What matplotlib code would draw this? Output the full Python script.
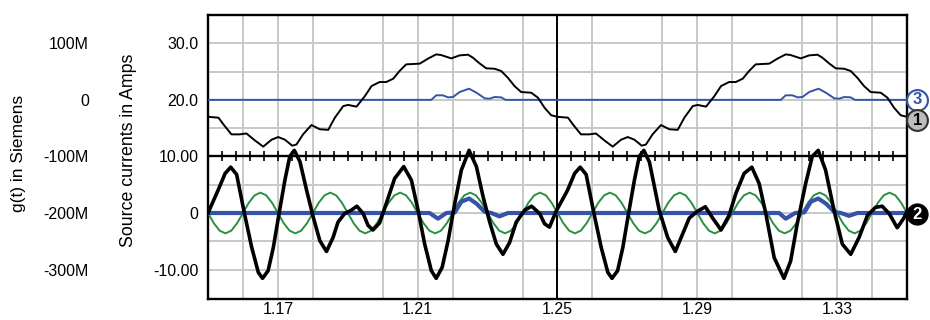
import numpy as np
import matplotlib
matplotlib.use("Agg")
import matplotlib.pyplot as plt
from matplotlib.ticker import FixedLocator, MultipleLocator

plt.rcParams['font.family'] = ['Liberation Sans', 'DejaVu Sans']
plt.rcParams['font.size'] = 11.5

# --- data ---

# trace 1: source current (upper panel), Amps
t_src1 = [1.1500, 1.1530, 1.1544, 1.1567, 1.1591, 1.1610, 1.1634, 1.1658, 1.1682, 1.1701,
          1.1720, 1.1741, 1.1753, 1.1772, 1.1796, 1.1820, 1.1844, 1.1863, 1.1887, 1.1901,
          1.1925, 1.1949, 1.1968, 1.1991, 1.2010, 1.2030, 1.2048, 1.2067, 1.2106, 1.2129,
          1.2153, 1.2167, 1.2196, 1.2220, 1.2244, 1.2258, 1.2277, 1.2296, 1.2320, 1.2339,
          1.2358, 1.2377, 1.2396, 1.2425, 1.2444, 1.2463, 1.2482,
          1.2500, 1.2530, 1.2544, 1.2567, 1.2591, 1.2610, 1.2634, 1.2658, 1.2682, 1.2701,
          1.2720, 1.2741, 1.2753, 1.2772, 1.2796, 1.2820, 1.2844, 1.2863, 1.2887, 1.2901,
          1.2925, 1.2949, 1.2968, 1.2991, 1.3010, 1.3030, 1.3048, 1.3067, 1.3106, 1.3129,
          1.3153, 1.3167, 1.3196, 1.3220, 1.3244, 1.3258, 1.3277, 1.3296, 1.3320, 1.3339,
          1.3358, 1.3377, 1.3396, 1.3425, 1.3444, 1.3463, 1.3482, 1.3500]
i_src1 = [17.0, 16.85, 15.67, 13.9, 13.9, 14.06, 12.84, 11.73, 12.96, 13.43,
          12.96, 11.9, 12.1, 13.9, 15.55, 14.8, 14.7, 16.85, 18.9, 19.1,
          18.8, 20.67, 22.44, 23.15, 23.15, 23.74, 25.09, 26.27, 26.4, 27.27,
          28.04, 27.92, 27.33, 27.86, 27.98, 27.45, 26.45, 25.57, 25.5, 25.1,
          23.9, 22.44, 21.38, 21.26, 20.38, 18.6, 17.27,
          17.0, 16.85, 15.67, 13.9, 13.9, 14.06, 12.84, 11.73, 12.96, 13.43,
          12.96, 11.9, 12.1, 13.9, 15.55, 14.8, 14.7, 16.85, 18.9, 19.1,
          18.8, 20.67, 22.44, 23.15, 23.15, 23.74, 25.09, 26.27, 26.4, 27.27,
          28.04, 27.92, 27.33, 27.86, 27.98, 27.45, 26.45, 25.57, 25.5, 25.1,
          23.9, 22.44, 21.38, 21.26, 20.38, 18.6, 17.27, 17.0]

# trace 3: g(t), in MSiemens
t_g = [1.1500, 1.2139, 1.2153, 1.2172, 1.2187, 1.2201, 1.2220, 1.2247, 1.2268, 1.2292,
       1.2306, 1.2320, 1.2339, 1.2351,
       1.3139, 1.3153, 1.3172, 1.3187, 1.3201, 1.3220, 1.3247, 1.3268, 1.3292,
       1.3306, 1.3320, 1.3339, 1.3351, 1.3500]
g_meg = [0, 0, 8, 8, 4.4, 5, 13.8, 19.7, 12.6, 2.6,
         2, 5, 4.4, 0,
         0, 8, 8, 4.4, 5, 13.8, 19.7, 12.6, 2.6,
         2, 5, 4.4, 0, 0]

# trace 2: source current (lower panel), Amps
t_src2 = [1.1500, 1.1529, 1.1549, 1.1565, 1.1582, 1.1604, 1.1625, 1.1644, 1.1656, 1.1672,
          1.1687, 1.1703, 1.1720, 1.1734, 1.1747, 1.1763, 1.1782, 1.1801, 1.1820, 1.1839,
          1.1858, 1.1872, 1.1891, 1.1910, 1.1926, 1.1944, 1.1958, 1.1972, 1.1991, 1.2010,
          1.2034, 1.2060, 1.2082, 1.2101, 1.2120, 1.2139, 1.2153, 1.2170, 1.2187, 1.2206,
          1.2225, 1.2247, 1.2268, 1.2287, 1.2306, 1.2325, 1.2344, 1.2363, 1.2382, 1.2406,
          1.2426, 1.2449, 1.2463, 1.2477, 1.2496,
          1.2529, 1.2549, 1.2565, 1.2582, 1.2604, 1.2625, 1.2644, 1.2656, 1.2672, 1.2687,
          1.2703, 1.2720, 1.2734, 1.2747, 1.2763, 1.2791, 1.2815, 1.2837, 1.2858, 1.2877,
          1.2900, 1.2923, 1.2944, 1.2968, 1.2991, 1.3010, 1.3034, 1.3056, 1.3077, 1.3096,
          1.3120, 1.3148, 1.3167, 1.3186, 1.3210, 1.3229, 1.3246, 1.3267, 1.3291, 1.3315,
          1.3339, 1.3363, 1.3387, 1.3410, 1.3429, 1.3449, 1.3472, 1.3491, 1.3500]
i_src2 = [0.0, 4.05, 7.0, 8.1, 6.8, 0.0, -6.07, -10.5, -11.55, -10.2,
          -6.07, -0.2, 5.8, 10.0, 11.07, 9.1, 4.05, -0.7, -4.9, -6.8,
          -4.3, -1.6, -0.1, 0.5, 1.2, -0.1, -2.2, -3.0, -1.75, 1.67,
          6.1, 8.2, 5.8, 0.5, -5.5, -10.2, -11.55, -9.6, -4.9, 1.67,
          7.6, 11.07, 8.2, 2.9, -1.6, -5.5, -7.3, -5.2, -1.6, 0.5,
          1.2, -0.1, -1.9, -2.5, 0.3,
          4.05, 7.0, 8.1, 6.8, 0.0, -6.07, -10.5, -11.55, -10.2, -6.07,
          -0.2, 5.8, 10.0, 11.07, 9.0, 0.5, -4.3, -6.8, -3.7, -0.9,
          0.3, 1.1, -0.9, -3.0, -0.4, 3.4, 7.0, 8.1, 5.2, -0.1,
          -7.9, -11.55, -8.5, -1.9, 5.2, 10.0, 11.07, 7.6, 0.5, -5.5,
          -7.3, -4.3, -0.4, 1.0, 1.2, -0.1, -2.6, -0.9, 0.3]

# blue trace in the lower panel, Amps
t_blue = [1.1500, 1.2134, 1.2158, 1.2182, 1.2206, 1.2225, 1.2247, 1.2268, 1.2292, 1.2311,
          1.2334, 1.2358, 1.3134, 1.3153, 1.3180, 1.3206, 1.3225, 1.3246, 1.3268, 1.3292,
          1.3311, 1.3334, 1.3358, 1.3500]
i_blue = [0, 0, -1.0, 0, 0.1, 2.0, 2.56, 1.67, 0.2, 0,
          -0.6, 0, 0, -1.0, 0, 0.1, 2.0, 2.56, 1.67, 0.2,
          0, -0.5, 0, 0]

# green 50 Hz trace, sampled every 1/600 s
t_green = np.linspace(1.15, 1.35, 121)
i_green = [0, -1.8, -3.12, -3.6, -3.12, -1.8, 0, 1.8, 3.12, 3.6, 3.12, 1.8,
           0, -1.8, -3.12, -3.6, -3.12, -1.8, 0, 1.8, 3.12, 3.6, 3.12, 1.8,
           0, -1.8, -3.12, -3.6, -3.12, -1.8, 0, 1.8, 3.12, 3.6, 3.12, 1.8,
           0, -1.8, -3.12, -3.6, -3.12, -1.8, 0, 1.8, 3.12, 3.6, 3.12, 1.8,
           0, -1.8, -3.12, -3.6, -3.12, -1.8, 0, 1.8, 3.12, 3.6, 3.12, 1.8,
           0, -1.8, -3.12, -3.6, -3.12, -1.8, 0, 1.8, 3.12, 3.6, 3.12, 1.8,
           0, -1.8, -3.12, -3.6, -3.12, -1.8, 0, 1.8, 3.12, 3.6, 3.12, 1.8,
           0, -1.8, -3.12, -3.6, -3.12, -1.8, 0, 1.8, 3.12, 3.6, 3.12, 1.8,
           0, -1.8, -3.12, -3.6, -3.12, -1.8, 0, 1.8, 3.12, 3.6, 3.12, 1.8,
           0, -1.8, -3.12, -3.6, -3.12, -1.8, 0, 1.8, 3.12, 3.6, 3.12, 1.8,
           0]

x_ticks = [1.17, 1.21, 1.25, 1.29, 1.33]
amp_ticks = [30, 20, 10, 0, -10]
amp_labels = ["30.0", "20.0", "10.00", "0", "-10.00"]
g_ticks = [100e6, 0, -100e6, -200e6, -300e6]
g_labels = ["100M", "0", "-100M", "-200M", "-300M"]

BLUE = "#3553a8"
GREEN = "#2b8f43"
GRID = "#c6cac6"


# g(t) shares the plot with the currents: 0 S sits on 20 A, 10 MS per amp
def amp_to_g(y):
    return (np.asarray(y) - 20) * 1e7


def g_to_amp(g):
    return np.asarray(g) / 1e7 + 20


fig = plt.figure(figsize=(9.3, 3.2), dpi=100)
ax = fig.add_axes([208 / 930, 21 / 320, 699 / 930, 284.3 / 320])

ax.set_xlim(1.15, 1.35)
ax.set_ylim(-15.2, 35.05)

# grid
ax.xaxis.set_major_locator(FixedLocator(x_ticks))
ax.xaxis.set_minor_locator(MultipleLocator(0.02))
ax.yaxis.set_major_locator(FixedLocator(amp_ticks))
ax.yaxis.set_minor_locator(FixedLocator([-5, 5, 15, 25]))
ax.set_xticklabels([f"{v:.2f}" for v in x_ticks])
ax.set_yticklabels(amp_labels)
ax.grid(True, which="both", color=GRID, lw=1.4, zorder=0)
ax.set_axisbelow(True)
ax.tick_params(which="both", length=0)
ax.tick_params(axis="x", pad=2.5)
ax.tick_params(axis="y", pad=7)

for sp in ax.spines.values():
    sp.set_linewidth(1.7)

# panel divider at 10 A with its tick marks, and the cursor at 1.25
ax.axhline(10, color="black", lw=1.7, zorder=3)
div_x = np.arange(1.154, 1.3485, 0.004)
ax.plot(div_x, np.full(len(div_x), 10), ls="none", marker="|", ms=7, mew=1.2,
        color="black", zorder=3)
ax.axvline(1.25, color="black", lw=1.4, zorder=3)

# traces
ax.plot(t_g, g_to_amp(np.array(g_meg) * 1e6), color=BLUE, lw=1.4, zorder=4)
ax.plot(t_src1, i_src1, color="black", lw=1.4, zorder=5)
ax.plot(t_green, i_green, color=GREEN, lw=1.4, zorder=4)
ax.plot(t_blue, i_blue, color=BLUE, lw=3.0, zorder=4)
ax.plot(t_src2, i_src2, color="black", lw=2.6, zorder=5)

# g(t) axis
sec = ax.secondary_yaxis((93 - 208) / 699, functions=(amp_to_g, g_to_amp))
sec.set_yticks(g_ticks)
sec.set_yticklabels(g_labels)
sec.tick_params(length=0, pad=3)
sec.spines["left"].set_visible(False)

fig.text(18 / 930, (320 - 153) / 320, "g(t) in Siemens", rotation=90,
         ha="center", va="center", fontsize=12.5)
fig.text(128 / 930, (320 - 150) / 320, "Source currents in Amps", rotation=90,
         ha="center", va="center", fontsize=12.8)

# trace badges on the right edge
badge_t = 1.3529
ax.plot(badge_t, 20, marker="o", ms=15, mfc="white", mec=BLUE, mew=1.5,
        clip_on=False, zorder=6)
ax.text(badge_t, 20, "3", color=BLUE, fontsize=12, fontweight="bold",
        ha="center", va="center", clip_on=False, zorder=7)
ax.plot(badge_t, 16.4, marker="o", ms=15, mfc="#bdbdbd", mec="#333333", mew=1.5,
        clip_on=False, zorder=8)
ax.text(badge_t, 16.4, "1", color="black", fontsize=12, fontweight="bold",
        ha="center", va="center", clip_on=False, zorder=9)
ax.plot(badge_t, -0.2, marker="o", ms=15, mfc="black", mec="black",
        clip_on=False, zorder=6)
ax.text(badge_t, -0.2, "2", color="white", fontsize=12, fontweight="bold",
        ha="center", va="center", clip_on=False, zorder=7)

fig.savefig("out.png", dpi=100)
